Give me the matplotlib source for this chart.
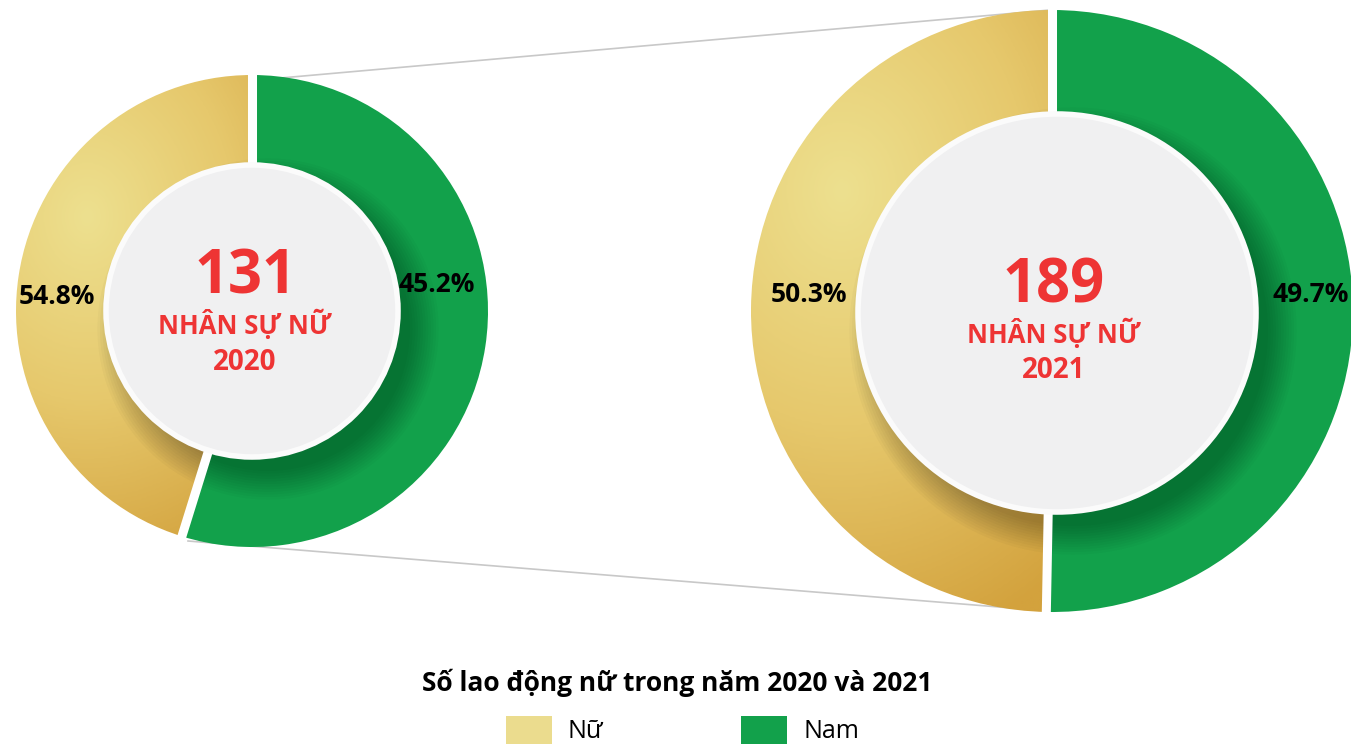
import numpy as np
import matplotlib
matplotlib.use("Agg")
from matplotlib import pyplot as plt
from matplotlib.patches import Wedge, Circle, Rectangle
from matplotlib.colors import LinearSegmentedColormap

plt.rcParams['font.family'] = ['Open Sans', 'DejaVu Sans']

# data
years      = ['2020', '2021']
female_n   = [131, 189]
nu_pct     = [54.8, 50.3]   # printed on the gold ring
nam_pct    = [45.2, 49.7]   # printed on the green ring
# the artwork draws the green arc with the larger share (starts at 12 o'clock, clockwise)
green_arc  = [54.8, 50.3]
center_lbl = 'NHÂN SỰ NỮ'
title      = 'Số lao động nữ trong năm 2020 và 2021'
legend_lbl = ['Nữ', 'Nam']

GREEN = '#12a14b'
GOLD_LIGHT = '#ede08f'
GOLD_DARK = '#d3a23d'
RED = '#ee3434'

# layout in pixels: centre x, centre y, outer r, inner disc r, disc dx, disc dy, text x
layout = [(252, 311, 236, 146, 0, 0, 245),
          (1052, 311, 301, 199, 5, 2, 1054)]
text_y = [(278, 325, 362), (287, 334, 370)]
pct_pos = [((57, 297), (437, 285)), ((809, 295), (1311, 295))]

fig = plt.figure(figsize=(13.51, 7.44), dpi=100)
ax = fig.add_axes([0, 0, 1, 1])
ax.set_xlim(0, 1351)
ax.set_ylim(744, 0)
ax.axis('off')
ax.set_autoscale_on(False)

gold_cmap = LinearSegmentedColormap.from_list('gold', [GOLD_LIGHT, '#e6c86c', GOLD_DARK])

# thin connector lines between the two rings
ax.plot([258, 1050], [80, 10], color='#c8c8c8', lw=1.2, zorder=1)
ax.plot([188, 1048], [541, 611], color='#c8c8c8', lw=1.2, zorder=1)

for i, (cx, cy, R, r, dx, dy, tx) in enumerate(layout):
    g = green_arc[i] * 3.6
    a0 = -90
    a1 = -90 + g
    ring_w = R - r + 10
    # green wedge (y axis is inverted: increasing angle = clockwise on screen)
    ax.add_patch(Wedge((cx, cy), R, a0, a1, width=ring_w, facecolor=GREEN,
                       edgecolor='none', zorder=2))
    # gold wedge with gradient
    gw = Wedge((cx, cy), R, a1, a0 + 360, width=ring_w, facecolor='none',
               edgecolor='none', zorder=2)
    ax.add_patch(gw)
    n = 300
    xs = np.linspace(cx - R, cx + R, n)
    ys = np.linspace(cy - R, cy + R, n)
    X, Y = np.meshgrid(xs, ys)
    lx, ly = cx - 0.7 * R, cy - 0.4 * R
    d = np.hypot((X - lx) / R, (Y - ly) / R * 0.8)
    img = np.clip(d / 1.25, 0, 1)
    im = ax.imshow(img, cmap=gold_cmap, extent=(cx - R, cx + R, cy + R, cy - R),
                   origin='upper', zorder=2, interpolation='bilinear')
    im.set_clip_path(gw)

    # soft shadow of the centre disc, kept inside the ring
    ring = Wedge((cx, cy), R, 0, 360, width=ring_w, facecolor='none', edgecolor='none')
    ax.add_patch(ring)
    for k in range(12):
        sh = Circle((cx + dx + 16, cy + dy + 18), r - 4 + k * 2.6,
                    facecolor='black', alpha=0.022, edgecolor='none', zorder=3)
        ax.add_patch(sh)
        sh.set_clip_path(ring)
    # white gaps between the segments
    for ang in (a0, a1):
        t = np.deg2rad(ang)
        ax.plot([cx + (r - 20) * np.cos(t), cx + (R + 4) * np.cos(t)],
                [cy + (r - 20) * np.sin(t), cy + (R + 4) * np.sin(t)],
                color='white', lw=6.5, solid_capstyle='butt', zorder=4)

    # centre disc
    ax.add_patch(Circle((cx + dx, cy + dy), r, facecolor='#f0f0f1', edgecolor='#fbfbfb',
                        lw=4, zorder=5))

    y0, y1, y2 = text_y[i]
    ax.text(tx, y0, str(female_n[i]), color=RED, fontsize=43,
            fontweight='bold', ha='center', va='center', zorder=6)
    ax.text(tx, y1, center_lbl, color=RED, fontsize=18.5,
            fontweight='bold', ha='center', va='center', zorder=6)
    ax.text(tx, y2, years[i], color=RED, fontsize=20,
            fontweight='bold', ha='center', va='center', zorder=6)

    (px0, py0), (px1, py1) = pct_pos[i]
    ax.text(px0, py0, f'{nu_pct[i]}%', fontsize=19, fontweight='bold', ha='center',
            va='center', zorder=7)
    ax.text(px1, py1, f'{nam_pct[i]}%', fontsize=19, fontweight='bold', ha='center',
            va='center', zorder=7)

# title and legend
ax.text(677, 683, title, fontsize=19, fontweight='bold', ha='center', va='center')
for lbl, col, x0 in zip(legend_lbl, ['#ebdc8e', GREEN], [506, 741]):
    ax.add_patch(Rectangle((x0, 716), 46, 30, facecolor=col, edgecolor='none'))
    ax.text(x0 + 62, 731, lbl, fontsize=18, ha='left', va='center')

fig.savefig('out.png', dpi=100)
